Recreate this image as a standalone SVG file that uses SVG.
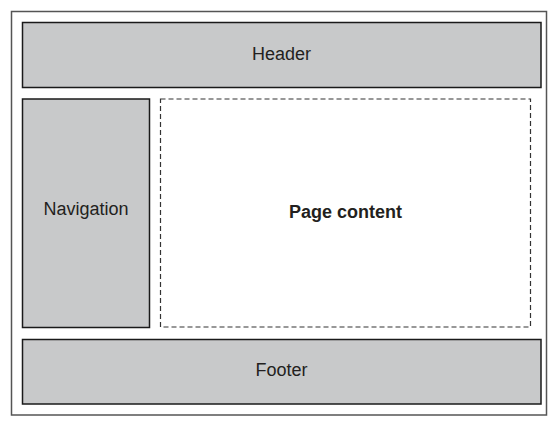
<svg xmlns="http://www.w3.org/2000/svg" width="557" height="424" viewBox="0 0 557 424">
<style>
.box{fill:#c8c9ca;stroke:#1a1a1a;stroke-width:1.5}
.t{font-family:"Liberation Sans",Arial,sans-serif;font-size:18px;fill:#231f20;text-anchor:middle;dominant-baseline:central}
</style>
<rect x="0" y="0" width="557" height="424" fill="#fff"/>
<g id="frame"><rect x="11.5" y="11.5" width="535" height="403.5" fill="#fff" stroke="#555" stroke-width="1.5"/></g>
<g id="header"><rect class="box" x="22.5" y="22.5" width="518.5" height="65"/><text class="t" x="281.5" y="54">Header</text></g>
<g id="navigation"><rect class="box" x="22.5" y="99" width="127" height="228.5"/><text class="t" x="86" y="209">Navigation</text></g>
<g id="content"><rect x="160.5" y="99" width="370" height="228" fill="#fff" stroke="#333" stroke-width="1.2" stroke-dasharray="5,3"/><text class="t" x="345.5" y="212" font-weight="bold">Page content</text></g>
<g id="footer"><rect class="box" x="22.5" y="339.5" width="518.5" height="64.5"/><text class="t" x="281.5" y="370">Footer</text></g>
<g id="connectors"/>
</svg>
